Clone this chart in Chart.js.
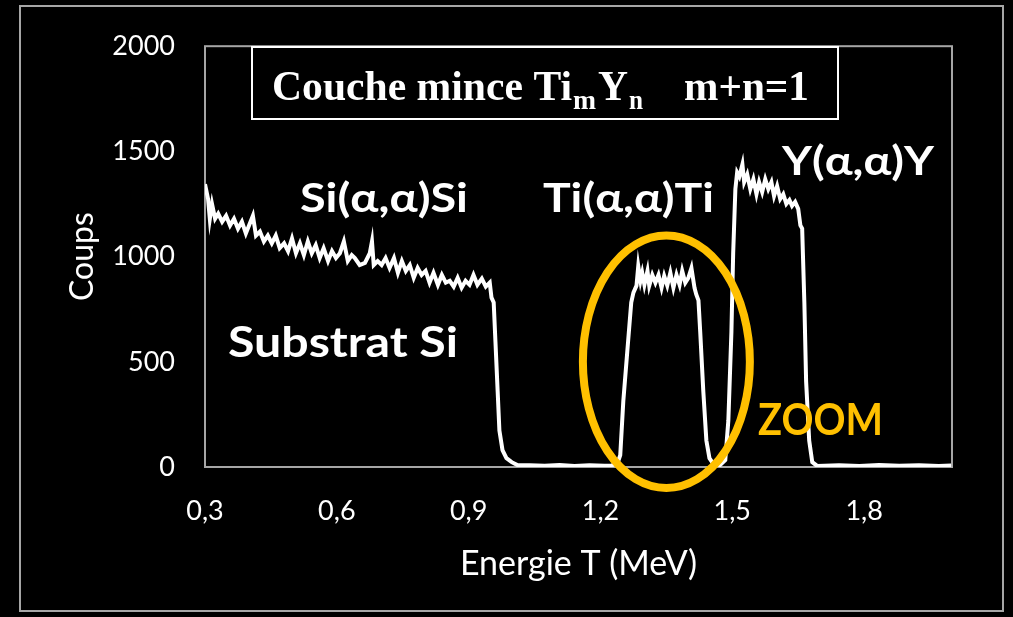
<!DOCTYPE html>
<html>
<head>
<meta charset="utf-8">
<script src="https://cdn.jsdelivr.net/npm/chart.js@4.4.1/dist/chart.umd.min.js"></script>
<style>
  html, body { margin: 0; padding: 0; background: #000; }
</style>
</head>
<body>
<canvas id="rbs" width="1013" height="617"></canvas>
<script>
// RBS spectrum, energy (MeV) vs counts
const energies = [
  0.300, 0.307, 0.311, 0.316, 0.323, 0.330, 0.339, 0.348, 0.357, 0.366,
  0.375, 0.384, 0.393, 0.402, 0.409, 0.416, 0.425, 0.434, 0.443, 0.452,
  0.461, 0.470, 0.480, 0.489, 0.498, 0.507, 0.516, 0.525, 0.534, 0.543,
  0.552, 0.561, 0.570, 0.580, 0.589, 0.598, 0.607, 0.616, 0.625, 0.634,
  0.641, 0.652, 0.664, 0.675, 0.680, 0.684, 0.693, 0.702, 0.711, 0.720,
  0.730, 0.739, 0.748, 0.757, 0.766, 0.775, 0.784, 0.793, 0.802, 0.811,
  0.820, 0.830, 0.839, 0.848, 0.857, 0.866, 0.875, 0.884, 0.893, 0.902,
  0.911, 0.920, 0.930, 0.939, 0.948, 0.952, 0.957, 0.961, 0.966, 0.970,
  0.977, 0.986, 0.998, 1.011, 1.039, 1.073, 1.107, 1.141, 1.175, 1.209,
  1.225,
  // Ti
  1.239, 1.245, 1.252, 1.261, 1.270, 1.275, 1.282, 1.286, 1.291, 1.295,
  1.300, 1.307, 1.311, 1.318, 1.325, 1.332, 1.339, 1.345, 1.352, 1.359,
  1.366, 1.373, 1.380, 1.386, 1.393, 1.400, 1.407, 1.414, 1.418, 1.423,
  1.427, 1.434, 1.441, 1.448, 1.457, 1.470,
  // Y
  1.484, 1.491, 1.498, 1.502, 1.507, 1.511, 1.516, 1.523, 1.527, 1.534,
  1.541, 1.548, 1.555, 1.561, 1.568, 1.575, 1.582, 1.589, 1.595, 1.602,
  1.609, 1.616, 1.623, 1.630, 1.636, 1.643, 1.650, 1.655, 1.659, 1.664,
  1.668, 1.675, 1.682, 1.693, 1.743, 1.789, 1.834, 1.880, 1.925, 1.970,
  1.998
];
const counts = [
  1344, 1274, 1180, 1250, 1180, 1204, 1166, 1194, 1148, 1180,
  1133, 1166, 1110, 1157, 1194, 1100, 1119, 1072, 1100, 1063,
  1100, 1040, 1063, 1026, 1086, 1016, 1063, 1007, 1072, 1016,
  1054, 993, 1040, 979, 1026, 993, 1016, 1072, 979, 1007,
  993, 960, 970, 1016, 1072, 960, 979, 960, 993, 946,
  993, 923, 979, 932, 960, 899, 946, 913, 932, 876,
  923, 866, 913, 876, 885, 857, 899, 852, 885, 866,
  913, 866, 895, 857, 876, 805, 782, 595, 361, 173,
  80, 42, 23, 9, 8, 6, 9, 5, 8, 6,
  7,
  19, 56, 314, 548, 782, 829, 862, 955, 885, 923,
  866, 932, 862, 913, 876, 913, 852, 908, 862, 923,
  852, 913, 866, 932, 876, 899, 946, 852, 820, 792,
  642, 361, 126, 42, 14, 5,
  33, 220, 642, 1016, 1321, 1400, 1380, 1438, 1354, 1391,
  1321, 1368, 1297, 1354, 1307, 1368, 1321, 1354, 1288, 1335,
  1274, 1297, 1251, 1269, 1241, 1260, 1227, 1148, 1133, 782,
  407, 126, 23, 5, 8, 5, 9, 6, 8, 5,
  7
];
const xTicks = [0.3, 0.6, 0.9, 1.2, 1.5, 1.8];
const yTicks = [0, 500, 1000, 1500, 2000];

const WHITE = '#ffffff';
const GOLD = '#ffc000';
const FRAME = '#a6a6a6';

function fitText(ctx, text, x, baseline, width, font, color) {
  ctx.save();
  ctx.font = font;
  ctx.fillStyle = color;
  ctx.textAlign = 'left';
  ctx.textBaseline = 'alphabetic';
  const w = ctx.measureText(text).width;
  ctx.translate(x, baseline);
  ctx.scale(width / w, 1);
  ctx.fillText(text, 0, 0);
  ctx.restore();
}

const decor = {
  id: 'decor',
  beforeDraw(chart) {
    const ctx = chart.ctx;
    ctx.save();
    ctx.fillStyle = '#000';
    ctx.fillRect(0, 0, chart.width, chart.height);
    ctx.restore();
  },
  beforeDatasetsDraw(chart) {
    const {ctx, chartArea: a} = chart;
    ctx.save();
    ctx.strokeStyle = FRAME;
    ctx.lineWidth = 2;
    ctx.strokeRect(a.left, a.top, a.right - a.left, a.bottom - a.top);
    ctx.restore();
  },
  afterDraw(chart) {
    const ctx = chart.ctx;
    const xs = chart.scales.x, ys = chart.scales.y;
    ctx.save();

    // outer frame
    ctx.strokeStyle = FRAME;
    ctx.lineWidth = 2;
    ctx.strokeRect(20, 6, 983, 605);

    // title box
    ctx.fillStyle = '#000';
    ctx.fillRect(252, 47, 586, 72);
    ctx.strokeStyle = WHITE;
    ctx.lineWidth = 2;
    ctx.strokeRect(252, 47, 586, 72);
    const big = 'bold 42px "Liberation Serif"';
    const small = 'bold 28px "Liberation Serif"';
    fitText(ctx, 'Couche mince Ti', 272, 100, 300, big, WHITE);
    fitText(ctx, 'm', 573, 109, 23, small, WHITE);
    fitText(ctx, 'Y', 598, 100, 30, big, WHITE);
    fitText(ctx, 'n', 629, 109, 14, small, WHITE);
    fitText(ctx, 'm+n=1', 684, 100, 125, big, WHITE);

    // ellipse around the Ti peak
    const cx = xs.getPixelForValue(1.35), cy = ys.getPixelForValue(500);
    const rx = xs.getPixelForValue(1.54) - cx;
    const ry = cy - ys.getPixelForValue(1100);
    ctx.beginPath();
    ctx.ellipse(cx, cy, rx, ry, 0, 0, Math.PI * 2);
    ctx.strokeStyle = GOLD;
    ctx.lineWidth = 8;
    ctx.stroke();

    // labels
    const lab = 'bold 40px Lato';
    fitText(ctx, 'Si(\u03b1,\u03b1)Si', 300, 212, 168, lab, WHITE);
    fitText(ctx, 'Ti(\u03b1,\u03b1)Ti', 543, 212, 171, lab, WHITE);
    fitText(ctx, 'Y(\u03b1,\u03b1)Y', 782, 175, 152, lab, WHITE);
    fitText(ctx, 'Substrat Si', 228, 357, 230, 'bold 42px Lato', WHITE);
    fitText(ctx, 'ZOOM', 758, 435, 125, 'bold 43px Lato', GOLD);
    ctx.restore();
  }
};

new Chart(document.getElementById('rbs'), {
  type: 'line',
  data: {
    datasets: [{
      data: energies.map((e, i) => ({x: e, y: counts[i]})),
      borderColor: WHITE,
      borderWidth: 4,
      pointRadius: 0,
      tension: 0,
      fill: false
    }]
  },
  options: {
    responsive: false,
    animation: false,
    devicePixelRatio: 1,
    layout: {padding: {left: 55, top: 40, right: 61, bottom: 20}},
    plugins: {legend: {display: false}, tooltip: {enabled: false}},
    scales: {
      x: {
        type: 'linear',
        min: 0.3,
        max: 2.0,
        afterBuildTicks: s => { s.ticks = xTicks.map(v => ({value: v})); },
        afterFit: s => { s.height = 130; },
        grid: {display: false, drawTicks: false},
        border: {display: false},
        ticks: {
          color: WHITE,
          padding: 28,
          maxRotation: 0,
          font: {family: 'Lato', size: 27},
          callback: v => v.toFixed(1).replace('.', ',')
        },
        title: {
          display: true,
          text: 'Energie T (MeV)',
          color: WHITE,
          font: {family: 'Lato', size: 34},
          padding: {top: 0, bottom: 13}
        }
      },
      y: {
        min: 0,
        max: 2000,
        afterBuildTicks: s => { s.ticks = yTicks.map(v => ({value: v})); },
        afterFit: s => { s.width = 150; },
        grid: {display: false, drawTicks: false},
        border: {display: false},
        ticks: {
          color: WHITE,
          padding: 30,
          font: {family: 'Lato', size: 27},
          callback: v => String(v)
        },
        title: {
          display: true,
          text: 'Coups',
          color: WHITE,
          font: {family: 'Lato', size: 32},
          padding: {top: 8, bottom: 0}
        }
      }
    }
  },
  plugins: [decor]
});
</script>
</body>
</html>
